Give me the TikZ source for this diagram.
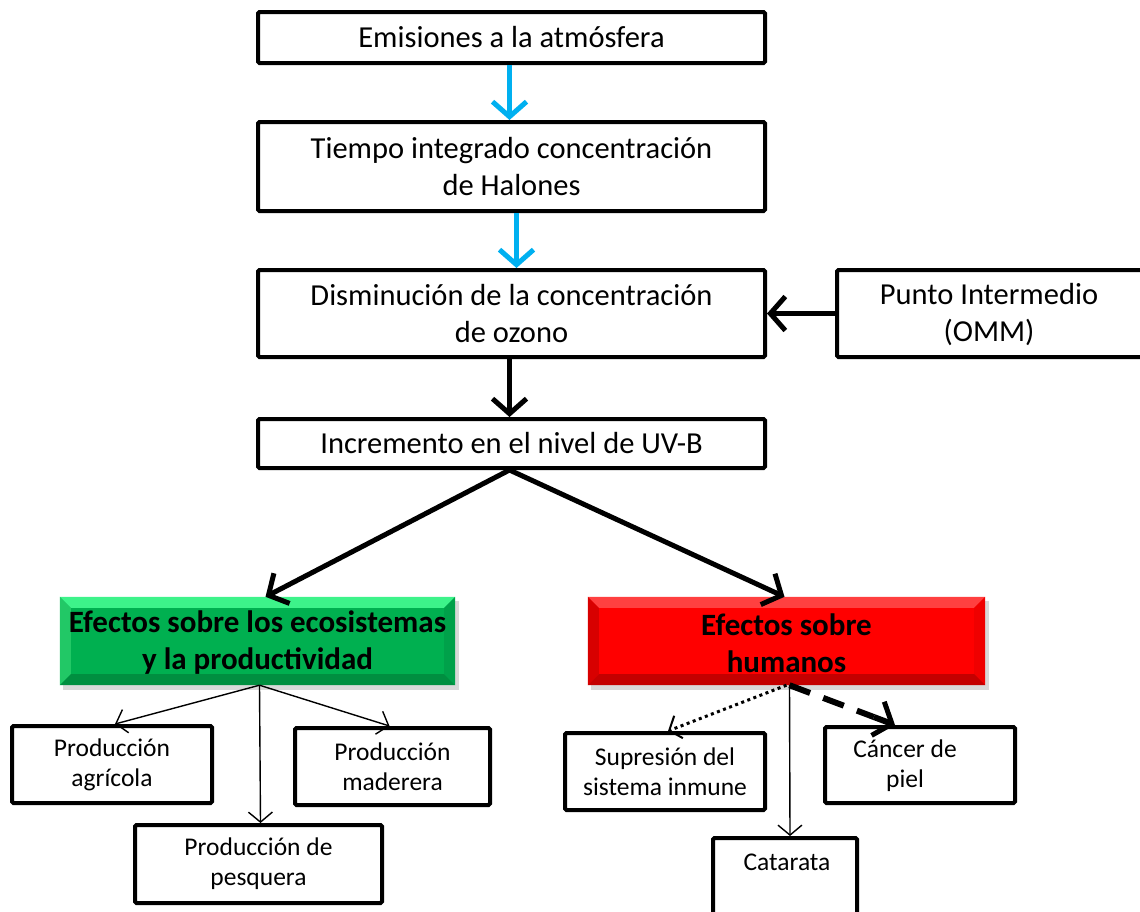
\documentclass[tikz,border=0pt]{standalone}
\usepackage{fontspec}
\setmainfont{Carlito}
\usetikzlibrary{arrows.meta,calc}

\definecolor{cyanarrow}{HTML}{00B0F0}
\definecolor{gbase}{HTML}{00B050}
\definecolor{gtop}{HTML}{3DF38A}
\definecolor{gleft}{HTML}{22C866}
\definecolor{gright}{HTML}{00A14A}
\definecolor{gbot}{HTML}{008F40}
\definecolor{rbase}{HTML}{FF0000}
\definecolor{rtop}{HTML}{FF4040}
\definecolor{rleft}{HTML}{D80000}
\definecolor{rright}{HTML}{F00000}
\definecolor{rbot}{HTML}{C40000}

\tikzset{
  box/.style={draw=black, line width=4pt, rounded corners=1.5pt, fill=white,
    inner sep=0pt, align=center},
  bigtext/.style={font=\fontsize{30.5}{37}\selectfont},
  smalltext/.style={font=\fontsize{25.5}{30}\selectfont},
  effect/.style={inner sep=0pt, align=center, draw=none,
    font=\bfseries\fontsize{31}{37}\selectfont},
  bluearrow/.style={draw=cyanarrow, line width=5pt,
    -{Straight Barb[length=15pt,width=34pt,line width=5pt]}},
  thickarrow/.style={draw=black, line width=5pt,
    -{Straight Barb[length=15pt,width=34pt,line width=5pt]}},
  thinarrow/.style={draw=black, line width=1.4pt,
    -{Straight Barb[length=10pt,width=24pt,line width=1.4pt]}},
  dottedarrow/.style={draw=black, line width=3pt, dash pattern=on 3pt off 3.5pt,
    -{Straight Barb[length=10pt,width=24pt,line width=2pt]}},
  dashedline/.style={draw=black, line width=6pt, dash pattern=on 22pt off 14pt},
  dashedtip/.style={draw=black, line width=6pt, solid,
    -{Straight Barb[length=15pt,width=36pt,line width=5pt]}},
}

% bevelled coloured panel: four edge bands over the base fill
\newcommand{\bevelpanel}[6]{%
  % #1 name, #2 top, #3 left, #4 right, #5 bottom, #6 bevel width
  \fill[#2] (#1.north west) -- (#1.north east) -- ([shift={(-#6,#6)}]#1.north east) -- ([shift={(#6,#6)}]#1.north west) -- cycle;
  \fill[#3] (#1.north west) -- ([shift={(#6,#6)}]#1.north west) -- ([shift={(#6,-#6)}]#1.south west) -- (#1.south west) -- cycle;
  \fill[#4] (#1.north east) -- ([shift={(-#6,#6)}]#1.north east) -- ([shift={(-#6,-#6)}]#1.south east) -- (#1.south east) -- cycle;
  \fill[#5] (#1.south west) -- ([shift={(#6,-#6)}]#1.south west) -- ([shift={(-#6,-#6)}]#1.south east) -- (#1.south east) -- cycle;}

\begin{document}
\begin{tikzpicture}[x=1pt, y=-1pt]
\useasboundingbox (0,0) rectangle (1140,911);
\clip (0,0) rectangle (1140,911);

% main chain
\node[box, bigtext, minimum width=507, minimum height=51] (emis) at (511.5,37.5) {Emisiones a la atmósfera};
\node[box, bigtext, minimum width=507, minimum height=89] (tiempo) at (511.5,166.5) {Tiempo integrado concentración\\de Halones};
\node[box, bigtext, minimum width=507, minimum height=87] (dism) at (511.5,313.5) {Disminución de la concentración\\de ozono};
\node[box, bigtext, minimum width=507, minimum height=49] (incr) at (511.5,443.5) {Incremento en el nivel de UV-B};

% side box, running past the right margin
\node[box, minimum width=310, minimum height=87] (punto) at (992,313.5) {};
\node[bigtext, align=center, inner sep=0pt] (puntotxt) at (989,315) {Punto Intermedio\\(OMM)};

% effect panels with soft drop shadows
\fill[black, opacity=0.15] (63,601) rectangle (459,690);
\fill[black, opacity=0.15] (591,601) rectangle (989,690);
\node[effect, fill=gbase, minimum width=395, minimum height=88] (green) at (257.5,641) {};
\bevelpanel{green}{gtop}{gleft}{gright}{gbot}{11}
\node[effect] (greentxt) at (257.5,643) {Efectos sobre los ecosistemas\\y la productividad};
\node[effect, fill=rbase, minimum width=397, minimum height=88] (red) at (786.5,641) {};
\bevelpanel{red}{rtop}{rleft}{rright}{rbot}{11}
\node[effect] (redtxt) at (786.5,643) {Efectos sobre\\humanos};

% ecosystem outcomes
\node[box, smalltext, minimum width=200, minimum height=77] (agri) at (112,764.5) {Producción\\agrícola};
\node[box, smalltext, minimum width=195, minimum height=77] (made) at (392.5,766.5) {Producción\\maderera};
\node[box, smalltext, minimum width=247, minimum height=78] (pesq) at (258.5,864) {Producción de\\pesquera};

% human outcomes
\node[box, smalltext, minimum width=200, minimum height=77] (supr) at (665,771.5) {Supresión del\\sistema inmune};
\node[box, minimum width=190, minimum height=76] (cancer) at (920,765) {};
\node[smalltext, align=center, inner sep=0pt] (cancertxt) at (905,766) {Cáncer de\\piel};
\node[box, minimum width=144, minimum height=100] (cat) at (785,888) {};
\node[smalltext, inner sep=0pt] (cattxt) at (787,862) {Catarata};

% connectors
\draw[bluearrow] ([xshift=-2]emis.south) -- ([xshift=-2]tiempo.north);
\draw[bluearrow] ([xshift=5]tiempo.south) -- ([xshift=5]dism.north);
\draw[thickarrow] ([xshift=-2]dism.south) -- ([xshift=-2]incr.north);
\draw[thickarrow] (punto.west) -- (dism.east);
\draw[thickarrow] ([xshift=-2]incr.south) -- ([xshift=8]green.north);
\draw[thickarrow] ([xshift=-2]incr.south) -- ([xshift=-2]red.north);

\draw[thinarrow] ([xshift=2]green.south) -- ([xshift=3]agri.north);
\draw[thinarrow] ([xshift=2]green.south) -- ([xshift=2]pesq.north);
\draw[thinarrow] ([xshift=2]green.south) -- ([xshift=-3]made.north);

\draw[dottedarrow] (red.south) -- ([xshift=3]supr.north);
\draw[thinarrow] ([xshift=3]red.south) -- ([xshift=5]cat.north);
\coordinate (cancerin) at ([xshift=-25]cancer.north);
\draw[dashedline] ([xshift=3]red.south) -- ($([xshift=3]red.south)!0.8!(cancerin)$);
\draw[dashedtip] ($([xshift=3]red.south)!0.8!(cancerin)$) -- (cancerin);
\end{tikzpicture}
\end{document}
